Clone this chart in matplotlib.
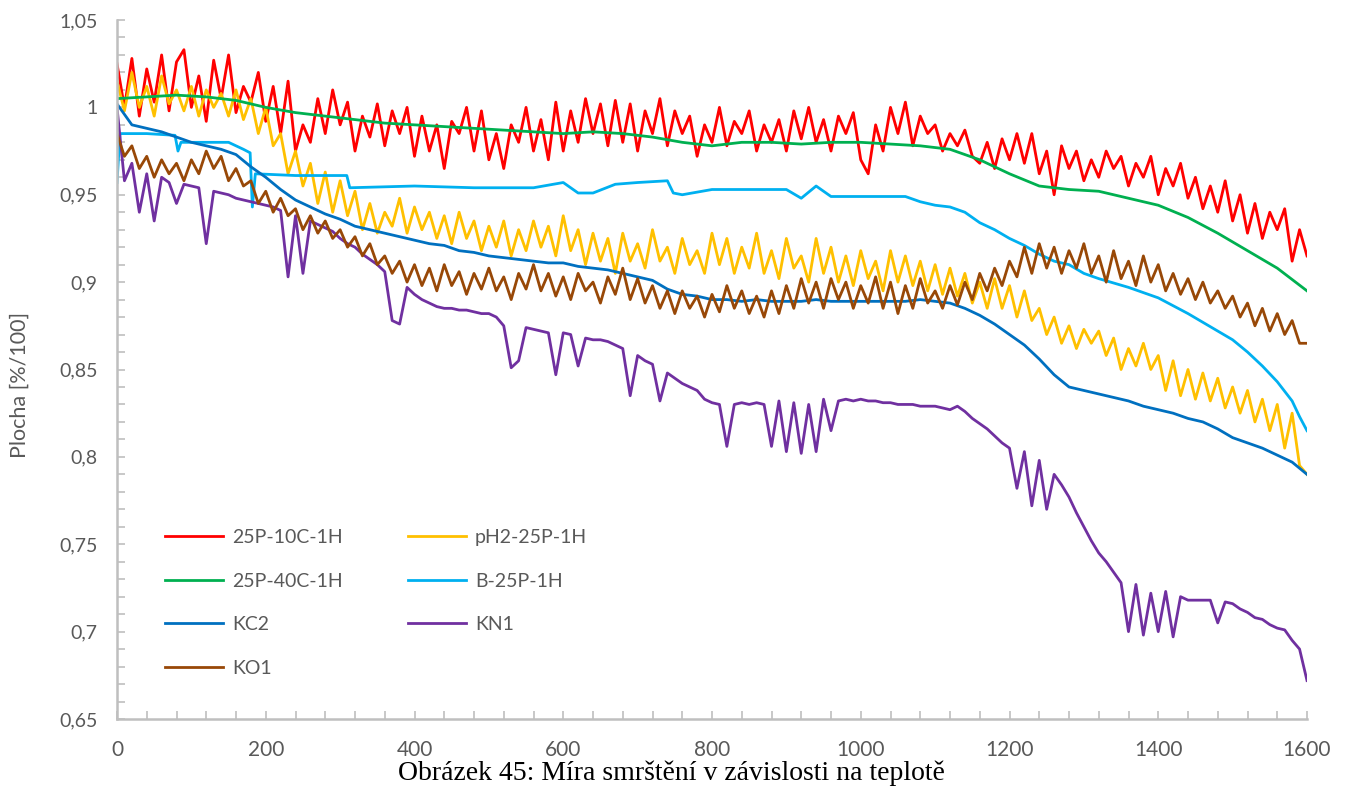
import numpy as np
import matplotlib
matplotlib.use("Agg")
import matplotlib.pyplot as plt
from matplotlib.ticker import MultipleLocator, FuncFormatter

# temperature grids
temp_10 = np.arange(0, 1601, 10)
temp_20 = np.arange(0, 1601, 20)
temp_40 = np.arange(0, 1601, 40)

# 25P-10C-1H (red), read every 10 units
red_vals = [
    1.025, 1.000, 1.028, 0.995, 1.022, 1.003, 1.030, 0.998, 1.026, 1.033,
    1.000, 1.018, 0.992, 1.027, 1.005, 1.030, 0.997, 1.012, 1.003, 1.020,
    0.992, 1.012, 0.985, 1.015, 0.975, 0.990, 0.980, 1.005, 0.985, 1.010,
    0.990, 1.003, 0.975, 0.995, 0.983, 1.002, 0.978, 0.998, 0.985, 1.000,
    0.972, 0.995, 0.975, 0.990, 0.965, 0.992, 0.985, 1.000, 0.975, 0.998,
    0.970, 0.985, 0.965, 0.990, 0.980, 1.000, 0.975, 0.993, 0.970, 1.003,
    0.975, 0.998, 0.980, 1.005, 0.985, 1.002, 0.978, 1.004, 0.980, 1.002,
    0.975, 0.998, 0.985, 1.005, 0.978, 0.998, 0.985, 0.995, 0.972, 0.990,
    0.980, 1.000, 0.978, 0.992, 0.985, 0.998, 0.975, 0.990, 0.980, 0.993,
    0.975, 0.998, 0.982, 1.000, 0.980, 0.993, 0.975, 0.995, 0.985, 0.997,
    0.970, 0.962, 0.990, 0.975, 1.000, 0.985, 1.003, 0.978, 0.995, 0.985,
    0.990, 0.975, 0.985, 0.978, 0.987, 0.972, 0.968, 0.980, 0.965, 0.982,
    0.970, 0.985, 0.968, 0.985, 0.962, 0.975, 0.950, 0.978, 0.965, 0.975,
    0.958, 0.970, 0.960, 0.975, 0.965, 0.972, 0.955, 0.968, 0.960, 0.972,
    0.950, 0.965, 0.955, 0.968, 0.948, 0.960, 0.942, 0.955, 0.940, 0.958,
    0.935, 0.950, 0.928, 0.945, 0.925, 0.940, 0.930, 0.942, 0.912, 0.930,
    0.915,
]

# pH2-25P-1H (yellow)
yellow_vals = [
    1.015, 0.998, 1.020, 1.000, 1.012, 0.995, 1.018, 1.002, 1.010, 0.998,
    1.012, 0.995, 1.010, 1.000, 1.008, 0.995, 1.010, 0.993, 1.005, 0.985,
    1.000, 0.978, 0.985, 0.962, 0.975, 0.955, 0.968, 0.945, 0.963, 0.940,
    0.958, 0.938, 0.952, 0.930, 0.945, 0.928, 0.940, 0.932, 0.948, 0.928,
    0.943, 0.930, 0.940, 0.925, 0.938, 0.922, 0.940, 0.925, 0.935, 0.918,
    0.932, 0.920, 0.935, 0.915, 0.930, 0.918, 0.935, 0.920, 0.932, 0.915,
    0.938, 0.918, 0.930, 0.910, 0.928, 0.912, 0.925, 0.905, 0.928, 0.912,
    0.922, 0.908, 0.930, 0.912, 0.920, 0.905, 0.925, 0.910, 0.918, 0.905,
    0.928, 0.910, 0.925, 0.905, 0.920, 0.908, 0.928, 0.905, 0.918, 0.902,
    0.925, 0.908, 0.915, 0.900, 0.925, 0.905, 0.920, 0.900, 0.915, 0.898,
    0.918, 0.902, 0.912, 0.895, 0.918, 0.900, 0.915, 0.898, 0.912, 0.895,
    0.910, 0.893, 0.908, 0.892, 0.905, 0.888, 0.900, 0.885, 0.902, 0.885,
    0.898, 0.880, 0.895, 0.878, 0.885, 0.870, 0.880, 0.865, 0.875, 0.862,
    0.873, 0.865, 0.872, 0.858, 0.868, 0.850, 0.862, 0.852, 0.865, 0.850,
    0.858, 0.838, 0.855, 0.835, 0.850, 0.833, 0.848, 0.832, 0.845, 0.828,
    0.840, 0.825, 0.838, 0.820, 0.833, 0.815, 0.830, 0.805, 0.825, 0.795,
    0.790,
]

# 25P-40C-1H (green), every 40 units
green_vals = [
    1.005, 1.006, 1.007, 1.006, 1.004, 1.000, 0.997, 0.995, 0.993, 0.991,
    0.990, 0.989, 0.988, 0.987, 0.986, 0.985, 0.986, 0.985, 0.983, 0.980,
    0.978, 0.980, 0.980, 0.979, 0.980, 0.980, 0.979, 0.978, 0.976, 0.970,
    0.962, 0.955, 0.953, 0.952, 0.948, 0.944, 0.937, 0.928, 0.918, 0.908,
    0.895,
]

# B-25P-1H (light blue), stepwise so read at its break points
lblue_temp = [
    0, 4, 40, 78, 82, 86, 150, 170, 179, 182, 186, 240, 309, 313, 400,
    480, 560, 600, 620, 640, 670, 700, 740, 748, 760, 800, 900, 920, 940, 960,
    1000, 1060, 1080, 1100, 1120, 1140, 1160, 1180, 1200, 1220, 1240, 1260,
    1280, 1300, 1320, 1360, 1400, 1440, 1480, 1500, 1520, 1540, 1560, 1580,
    1590, 1600,
]
lblue_vals = [
    0.957, 0.985, 0.985, 0.984, 0.975, 0.980, 0.980, 0.976, 0.974, 0.943,
    0.962, 0.961, 0.961, 0.954, 0.955, 0.954, 0.954, 0.957, 0.951, 0.951,
    0.956, 0.957, 0.958, 0.951, 0.950, 0.953, 0.953, 0.948, 0.955, 0.949,
    0.949, 0.949, 0.946, 0.944, 0.943, 0.940, 0.934, 0.930, 0.925, 0.921,
    0.916, 0.912, 0.910, 0.905, 0.902, 0.897, 0.891, 0.882, 0.872, 0.867,
    0.860, 0.852, 0.843, 0.832, 0.823, 0.815,
]

# KC2 (dark blue), every 20 units
kc2_vals = [
    1.002, 0.990, 0.988, 0.986, 0.983, 0.980, 0.978, 0.976, 0.973, 0.966,
    0.960, 0.953, 0.947, 0.943, 0.939, 0.936, 0.932, 0.930, 0.928, 0.926,
    0.924, 0.922, 0.921, 0.918, 0.917, 0.915, 0.914, 0.913, 0.912, 0.911,
    0.911, 0.909, 0.908, 0.907, 0.905, 0.903, 0.901, 0.896, 0.893, 0.892,
    0.890, 0.890, 0.889, 0.890, 0.889, 0.889, 0.889, 0.890, 0.889, 0.889,
    0.889, 0.889, 0.889, 0.889, 0.890, 0.889, 0.888, 0.885, 0.881, 0.876,
    0.870, 0.864, 0.856, 0.847, 0.840, 0.838, 0.836, 0.834, 0.832, 0.829,
    0.827, 0.825, 0.822, 0.820, 0.816, 0.811, 0.808, 0.805, 0.801, 0.797,
    0.790,
]

# KN1 (purple), every 10 units
kn1_vals = [
    1.000, 0.958, 0.968, 0.940, 0.962, 0.935, 0.960, 0.957, 0.945, 0.956,
    0.955, 0.954, 0.922, 0.952, 0.951, 0.950, 0.948, 0.947, 0.946, 0.945,
    0.944, 0.943, 0.941, 0.903, 0.938, 0.905, 0.935, 0.933, 0.931, 0.929,
    0.925, 0.922, 0.920, 0.916, 0.913, 0.910, 0.906, 0.878, 0.876, 0.897,
    0.893, 0.890, 0.888, 0.886, 0.885, 0.885, 0.884, 0.884, 0.883, 0.882,
    0.882, 0.880, 0.875, 0.851, 0.855, 0.874, 0.873, 0.872, 0.871, 0.847,
    0.871, 0.870, 0.852, 0.868, 0.867, 0.867, 0.866, 0.864, 0.862, 0.835,
    0.858, 0.855, 0.853, 0.832, 0.848, 0.845, 0.842, 0.840, 0.838, 0.833,
    0.831, 0.830, 0.806, 0.830, 0.831, 0.830, 0.831, 0.830, 0.806, 0.832,
    0.803, 0.831, 0.802, 0.830, 0.803, 0.833, 0.815, 0.832, 0.833, 0.832,
    0.833, 0.832, 0.832, 0.831, 0.831, 0.830, 0.830, 0.830, 0.829, 0.829,
    0.829, 0.828, 0.827, 0.829, 0.826, 0.822, 0.819, 0.816, 0.812, 0.808,
    0.805, 0.782, 0.803, 0.772, 0.798, 0.770, 0.790, 0.784, 0.777, 0.768,
    0.760, 0.752, 0.745, 0.740, 0.734, 0.728, 0.700, 0.727, 0.698, 0.722,
    0.700, 0.723, 0.697, 0.720, 0.718, 0.718, 0.718, 0.718, 0.705, 0.717,
    0.716, 0.713, 0.711, 0.708, 0.707, 0.704, 0.702, 0.701, 0.695, 0.690,
    0.672,
]

# KO1 (brown), every 10 units
ko1_vals = [
    0.985, 0.972, 0.978, 0.965, 0.972, 0.960, 0.970, 0.962, 0.968, 0.958,
    0.970, 0.962, 0.975, 0.965, 0.972, 0.958, 0.965, 0.955, 0.958, 0.945,
    0.952, 0.940, 0.948, 0.938, 0.942, 0.930, 0.938, 0.928, 0.935, 0.925,
    0.930, 0.920, 0.926, 0.915, 0.922, 0.910, 0.915, 0.905, 0.912, 0.900,
    0.910, 0.898, 0.908, 0.895, 0.910, 0.898, 0.906, 0.893, 0.905, 0.896,
    0.908, 0.895, 0.903, 0.890, 0.905, 0.896, 0.910, 0.895, 0.905, 0.892,
    0.903, 0.890, 0.905, 0.895, 0.900, 0.888, 0.903, 0.893, 0.908, 0.890,
    0.902, 0.888, 0.898, 0.885, 0.895, 0.882, 0.895, 0.885, 0.892, 0.880,
    0.893, 0.883, 0.898, 0.885, 0.895, 0.882, 0.892, 0.880, 0.895, 0.882,
    0.898, 0.885, 0.902, 0.888, 0.900, 0.885, 0.902, 0.890, 0.900, 0.885,
    0.898, 0.888, 0.903, 0.885, 0.900, 0.882, 0.898, 0.885, 0.902, 0.888,
    0.895, 0.885, 0.898, 0.887, 0.900, 0.890, 0.905, 0.895, 0.908, 0.898,
    0.912, 0.903, 0.920, 0.905, 0.922, 0.908, 0.920, 0.905, 0.918, 0.908,
    0.922, 0.905, 0.915, 0.900, 0.918, 0.902, 0.912, 0.898, 0.915, 0.900,
    0.910, 0.895, 0.905, 0.893, 0.902, 0.890, 0.900, 0.888, 0.895, 0.885,
    0.892, 0.880, 0.888, 0.875, 0.885, 0.872, 0.882, 0.870, 0.878, 0.865,
    0.865,
]

gray = "#595959"
axis_gray = "#BFBFBF"
plt.rcParams["font.family"] = ["Lato", "DejaVu Sans"]

fig = plt.figure(figsize=(13.46, 7.88), dpi=100)
ax = fig.add_axes([117 / 1346, 1 - 719 / 788, 1190 / 1346, 699 / 788])

lw = 2.0
# plotted in the original series order (later ones on top)
l_red, = ax.plot(temp_10, red_vals, color="#FF0000", lw=lw, label="25P-10C-1H")
l_yel, = ax.plot(temp_10, yellow_vals, color="#FFC000", lw=lw, label="pH2-25P-1H")
l_grn, = ax.plot(temp_40, green_vals, color="#00B050", lw=lw, label="25P-40C-1H")
l_lbl, = ax.plot(lblue_temp, lblue_vals, color="#00B0F0", lw=lw, label="B-25P-1H")
l_kc2, = ax.plot(temp_20, kc2_vals, color="#0070C0", lw=lw, label="KC2")
l_kn1, = ax.plot(temp_10, kn1_vals, color="#7030A0", lw=lw, label="KN1")
l_ko1, = ax.plot(temp_10, ko1_vals, color="#984807", lw=lw, label="KO1")

ax.set_xlim(0, 1600)
ax.set_ylim(0.65, 1.05)

ax.xaxis.set_major_locator(MultipleLocator(200))
ax.xaxis.set_minor_locator(MultipleLocator(40))
ax.yaxis.set_major_locator(MultipleLocator(0.05))
ax.yaxis.set_minor_locator(MultipleLocator(0.01))
ax.yaxis.set_major_formatter(
    FuncFormatter(lambda v, p: f"{v:.2f}".rstrip("0").rstrip(".").replace(".", ",")))

for s in ["top", "right"]:
    ax.spines[s].set_visible(False)
for s in ["left", "bottom"]:
    ax.spines[s].set_color(axis_gray)
    ax.spines[s].set_linewidth(1.8)

ax.tick_params(which="both", direction="in", color=axis_gray, width=1.2, length=6)
ax.tick_params(axis="x", which="major", labelsize=15, labelcolor=gray, pad=15)
ax.tick_params(axis="y", which="major", labelsize=14, labelcolor=gray, pad=14)

fig.text(20 / 1346, 1 - 385 / 788, "Plocha [%/100]", rotation=90,
         ha="center", va="center", fontsize=15.5, color=gray)

fig.text(671 / 1346, 1 - 773 / 788, "Obrázek 45: Míra smrštění v závislosti na teplotě",
         ha="center", va="center", fontsize=20, color="black",
         family=["Liberation Serif", "DejaVu Serif"])

handles = [l_red, l_grn, l_kc2, l_ko1, l_yel, l_lbl, l_kn1]
ax.legend(handles=handles, labels=[h.get_label() for h in handles], ncol=2,
          loc="upper left", bbox_to_anchor=(165 / 1346, 1 - 529 / 788),
          bbox_transform=fig.transFigure, frameon=False, fontsize=14,
          labelcolor=gray, handlelength=3.0, handletextpad=0.45,
          labelspacing=1.37, columnspacing=3.35, borderpad=0, borderaxespad=0)

fig.savefig("out.png", dpi=100, facecolor="white")
